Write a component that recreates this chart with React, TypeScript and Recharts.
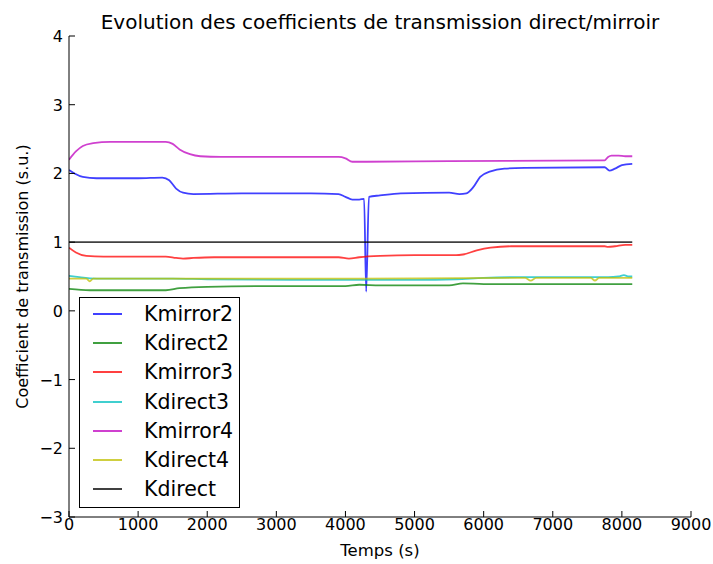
import { LineChart, Line, XAxis, YAxis, Label } from 'recharts';

// time (s) / value pairs, one pair of arrays per series
const kmirror2T = [0, 80, 200, 400, 1000, 1350, 1450, 1550, 1650, 1800, 2500, 3500, 3900, 4000, 4100, 4200, 4270, 4300, 4340, 4500, 4800, 5500, 5650, 5750, 5850, 5950, 6100, 6300, 6600, 7750, 7820, 7900, 8000, 8150];
const kmirror2V = [2.05, 2.0, 1.95, 1.93, 1.93, 1.94, 1.9, 1.78, 1.72, 1.7, 1.71, 1.71, 1.7, 1.66, 1.62, 1.62, 1.63, 0.28, 1.66, 1.68, 1.71, 1.72, 1.7, 1.71, 1.8, 1.95, 2.03, 2.07, 2.08, 2.09, 2.04, 2.07, 2.12, 2.14];

const kdirect2T = [0, 300, 1400, 1600, 2000, 3000, 4000, 4200, 4500, 5000, 5500, 5700, 6000, 8150];
const kdirect2V = [0.32, 0.3, 0.3, 0.33, 0.35, 0.36, 0.36, 0.38, 0.37, 0.37, 0.37, 0.4, 0.39, 0.39];

const kmirror3T = [0, 100, 250, 500, 1400, 1550, 1650, 1800, 2100, 3900, 4050, 4200, 4500, 5000, 5600, 5700, 5900, 6100, 6400, 7750, 7800, 7900, 8050, 8150];
const kmirror3V = [0.92, 0.85, 0.8, 0.79, 0.79, 0.77, 0.76, 0.77, 0.78, 0.78, 0.76, 0.78, 0.8, 0.81, 0.81, 0.82, 0.88, 0.92, 0.94, 0.94, 0.93, 0.94, 0.96, 0.96];

const kdirect3T = [0, 150, 400, 1500, 2000, 3500, 4300, 5000, 5600, 6000, 6500, 7000, 7800, 7950, 8030, 8100, 8150];
const kdirect3V = [0.51, 0.49, 0.47, 0.47, 0.46, 0.45, 0.45, 0.45, 0.46, 0.48, 0.49, 0.49, 0.49, 0.5, 0.52, 0.5, 0.5];

const kmirror4T = [0, 100, 200, 350, 600, 1400, 1500, 1600, 1750, 1900, 2200, 3900, 4000, 4100, 4300, 5500, 7750, 7800, 7850, 7950, 8050, 8150];
const kmirror4V = [2.2, 2.32, 2.4, 2.44, 2.46, 2.46, 2.43, 2.35, 2.28, 2.25, 2.24, 2.24, 2.22, 2.17, 2.17, 2.18, 2.19, 2.24, 2.26, 2.26, 2.25, 2.25];

const kdirect4T = [0, 250, 300, 350, 1500, 4000, 6600, 6680, 6760, 7550, 7610, 7670, 8150];
const kdirect4V = [0.47, 0.47, 0.43, 0.47, 0.47, 0.47, 0.48, 0.44, 0.48, 0.48, 0.44, 0.48, 0.48];

const kdirectT = [0, 8150];
const kdirectV = [1.0, 1.0];

const xTicks = [0, 1000, 2000, 3000, 4000, 5000, 6000, 7000, 8000, 9000];
const yTicks = [-3, -2, -1, 0, 1, 2, 3, 4];

const toPoints = (t: number[], v: number[]) => t.map((x, i) => ({ t: x, v: v[i] }));

const series = [
  { name: 'Kmirror2', color: '#0000ff', data: toPoints(kmirror2T, kmirror2V) },
  { name: 'Kdirect2', color: '#008000', data: toPoints(kdirect2T, kdirect2V) },
  { name: 'Kmirror3', color: '#ff0000', data: toPoints(kmirror3T, kmirror3V) },
  { name: 'Kdirect3', color: '#00bfbf', data: toPoints(kdirect3T, kdirect3V) },
  { name: 'Kmirror4', color: '#bf00bf', data: toPoints(kmirror4T, kmirror4V) },
  { name: 'Kdirect4', color: '#bfbf00', data: toPoints(kdirect4T, kdirect4V) },
  { name: 'Kdirect', color: '#000000', data: toPoints(kdirectT, kdirectV) },
];

const FONT = '"DejaVu Sans", sans-serif';
const TICK_LEN = 6;
const fmt = (n: number) => (n < 0 ? `\u2212${-n}` : `${n}`);

function BottomTick({ x, y, payload }: any) {
  return (
    <g>
      <line x1={x} y1={y} x2={x} y2={y - TICK_LEN} stroke="#000" />
      <text x={x} y={y + 13} textAnchor="middle" fontSize={16} fontFamily={FONT} fill="#000">
        {fmt(payload.value)}
      </text>
    </g>
  );
}

function TopTick({ x, y }: any) {
  return <line x1={x} y1={y} x2={x} y2={y + TICK_LEN} stroke="#000" />;
}

function LeftTick({ x, y, payload }: any) {
  return (
    <g>
      <line x1={x} y1={y} x2={x + TICK_LEN} y2={y} stroke="#000" />
      <text x={x - 6} y={y + 6} textAnchor="end" fontSize={16} fontFamily={FONT} fill="#000">
        {fmt(payload.value)}
      </text>
    </g>
  );
}

function RightTick({ x, y }: any) {
  return <line x1={x} y1={y} x2={x - TICK_LEN} y2={y} stroke="#000" />;
}

export default function App() {
  return (
    <div style={{ position: 'absolute', left: 0, top: 0, width: 713, height: 564, background: '#fff', fontFamily: FONT }}>
      <div
        style={{
          position: 'absolute',
          left: 0,
          width: 760,
          top: 12,
          textAlign: 'center',
          fontSize: 20,
          lineHeight: '20px',
          whiteSpace: 'nowrap',
        }}
      >
        Evolution des coefficients de transmission direct/mirroir
      </div>
      <LineChart width={713} height={564} margin={{ top: 36, right: 22, bottom: 17, left: 39 }}>
        <XAxis
          dataKey="t"
          type="number"
          domain={[0, 9000]}
          ticks={xTicks}
          allowDataOverflow
          height={30}
          tickSize={0}
          tickMargin={0}
          tick={<BottomTick />}
          axisLine={{ stroke: '#000' }}
        >
          <Label value="Temps (s)" position="bottom" offset={-3} fontSize={16.5} fontFamily={FONT} fill="#000" />
        </XAxis>
        <XAxis
          xAxisId="top"
          dataKey="t"
          type="number"
          orientation="top"
          domain={[0, 9000]}
          ticks={xTicks}
          height={0}
          tickSize={0}
          tickMargin={0}
          tick={<TopTick />}
          axisLine={{ stroke: '#000' }}
        />
        <YAxis
          dataKey="v"
          type="number"
          domain={[-3, 4]}
          ticks={yTicks}
          allowDataOverflow
          width={30}
          tickSize={0}
          tickMargin={0}
          tick={<LeftTick />}
          axisLine={{ stroke: '#000' }}
        >
          <Label
            value="Coefficient de transmission (s.u.)"
            angle={-90}
            position="left"
            offset={17}
            fontSize={16}
            fontFamily={FONT}
            fill="#000"
            style={{ textAnchor: 'middle' }}
          />
        </YAxis>
        <YAxis
          yAxisId="right"
          orientation="right"
          type="number"
          domain={[-3, 4]}
          ticks={yTicks}
          width={0}
          tickSize={0}
          tickMargin={0}
          tick={<RightTick />}
          axisLine={{ stroke: '#000' }}
        />
        {series.map((s) => (
          <Line
            key={s.name}
            data={s.data}
            dataKey="v"
            name={s.name}
            type="monotone"
            stroke={s.color}
            strokeOpacity={0.75}
            strokeWidth={1.8}
            dot={false}
            isAnimationActive={false}
          />
        ))}
      </LineChart>
      <div
        style={{
          position: 'absolute',
          left: 79,
          top: 297,
          width: 159,
          height: 209,
          border: '1px solid #000',
          background: '#fff',
        }}
      >
        {series.map((s, i) => (
          <div
            key={s.name}
            style={{ position: 'absolute', left: 0, top: 4 + i * 29.2, height: 24, display: 'flex', alignItems: 'center' }}
          >
            <div style={{ marginLeft: 13, width: 29, height: 2, background: s.color, opacity: 0.75 }} />
            <span style={{ marginLeft: 22, fontSize: 20.5, lineHeight: '24px', color: '#000' }}>{s.name}</span>
          </div>
        ))}
      </div>
    </div>
  );
}
